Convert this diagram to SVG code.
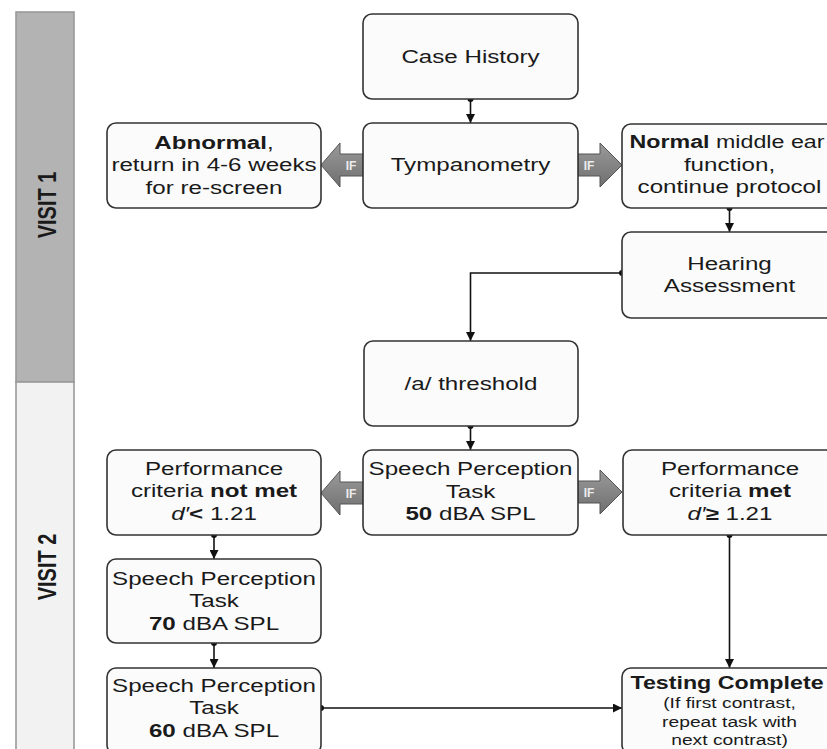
<svg xmlns="http://www.w3.org/2000/svg" width="827" height="749" viewBox="0 0 827 749">
<defs>
<style>
.box{fill:#fbfbfb;stroke:#333;stroke-width:1.6}
.t{font-family:"Liberation Sans",Arial,sans-serif;font-size:18.3px;fill:#1a1a1a;text-anchor:middle}
.s{font-size:14.6px}
.b{font-weight:bold}
.i{font-style:italic}
.conn{stroke:#111;stroke-width:1.6;fill:none;marker-start:url(#dot);marker-end:url(#arr)}
.ifa{fill:url(#g);stroke:#555;stroke-width:1}
.ift{font-family:"Liberation Sans",Arial,sans-serif;font-size:12px;font-weight:bold;fill:#ececec;text-anchor:middle}
.vis{font-family:"Liberation Sans",Arial,sans-serif;font-size:20px;font-weight:bold;fill:#1a1a1a;text-anchor:middle}
</style>
<linearGradient id="g" x1="0" y1="0" x2="0" y2="1">
<stop offset="0" stop-color="#9a9a9a"/>
<stop offset="1" stop-color="#6f6f6f"/>
</linearGradient>
<marker id="arr" markerUnits="userSpaceOnUse" markerWidth="10" markerHeight="9" refX="9" refY="4.5" orient="auto">
<path d="M0,0 L9,4.5 L0,9 z" fill="#111"/>
</marker>
<marker id="dot" markerUnits="userSpaceOnUse" markerWidth="8" markerHeight="8" refX="4" refY="4">
<circle cx="4" cy="4" r="3" fill="#111"/>
</marker>
</defs>

<g id="visit1">
<rect x="16" y="12" width="58" height="370" fill="#b3b3b3" stroke="#999" stroke-width="1.6"/>
<text class="vis" transform="translate(47 205) scale(1.32 1) rotate(-90)" x="0" y="7">VISIT 1</text>
</g>
<g id="visit2">
<rect x="16" y="382" width="58" height="380" fill="#f2f2f2" stroke="#999" stroke-width="1.6"/>
<text class="vis" transform="translate(47 567) scale(1.32 1) rotate(-90)" x="0" y="7">VISIT 2</text>
</g>

<g id="connectors">
<path class="conn" d="M470.5 99 V123"/>
<path class="conn" d="M729.5 208 V232"/>
<path class="conn" d="M622 273 H470.5 V341"/>
<path class="conn" d="M470.5 426 V450"/>
<path class="conn" d="M214 535 V559"/>
<path class="conn" d="M214 643 V668"/>
<path class="conn" d="M729.5 535 V668"/>
<path class="conn" d="M321 708 H622"/>
</g>

<g id="if-arrows">
<polygon class="ifa" points="363,154 340,154 340,143 321,165 340,187 340,176 363,176"/>
<text class="ift" x="351" y="169.5">IF</text>
<polygon class="ifa" points="578,154 600,154 600,143 622,165 600,187 600,176 578,176"/>
<text class="ift" x="589" y="169.5">IF</text>
<polygon class="ifa" points="363,482 340,482 340,471 321,493 340,515 340,504 363,504"/>
<text class="ift" x="351" y="497.5">IF</text>
<polygon class="ifa" points="578,481 600,481 600,470 622,492 600,514 600,503 578,503"/>
<text class="ift" x="589" y="496.5">IF</text>
</g>

<g id="case-history">
<rect class="box" x="363" y="14" width="215" height="85" rx="9"/>
<text class="t" transform="translate(470.5 0) scale(1.32 1)" x="0" y="63.5">Case History</text>
</g>

<g id="tympanometry">
<rect class="box" x="363" y="123" width="215" height="85" rx="9"/>
<text class="t" transform="translate(470.5 0) scale(1.32 1)" x="0" y="171.5">Tympanometry</text>
</g>

<g id="abnormal">
<rect class="box" x="107" y="123" width="214" height="85" rx="9"/>
<g transform="translate(214 0) scale(1.32 1)">
<text class="t" x="0" y="149"><tspan class="b">Abnormal</tspan>,</text>
<text class="t" x="0" y="171.5">return in 4-6 weeks</text>
<text class="t" x="0" y="194">for re-screen</text>
</g>
</g>

<g id="normal">
<rect class="box" x="622" y="124" width="215" height="84" rx="9"/>
<text class="t" transform="translate(727 0) scale(1.27 1)" x="0" y="148.5"><tspan class="b">Normal</tspan> middle ear</text>
<g transform="translate(729.5 0) scale(1.32 1)">
<text class="t" x="0" y="171.5">function,</text>
<text class="t" x="0" y="193.5">continue protocol</text>
</g>
</g>

<g id="hearing-assessment">
<rect class="box" x="622" y="232" width="215" height="86" rx="9"/>
<g transform="translate(729.5 0) scale(1.32 1)">
<text class="t" x="0" y="270">Hearing</text>
<text class="t" x="0" y="292">Assessment</text>
</g>
</g>

<g id="a-threshold">
<rect class="box" x="364" y="341" width="214" height="85" rx="9"/>
<text class="t" transform="translate(471 0) scale(1.32 1)" x="0" y="390">/a/ threshold</text>
</g>

<g id="speech-50">
<rect class="box" x="363" y="450" width="215" height="85" rx="9"/>
<g transform="translate(470.5 0) scale(1.32 1)">
<text class="t" x="0" y="475.5">Speech Perception</text>
<text class="t" x="0" y="498">Task</text>
<text class="t" x="0" y="520.5"><tspan class="b">50</tspan> dBA SPL</text>
</g>
</g>

<g id="not-met">
<rect class="box" x="107" y="450" width="214" height="85" rx="9"/>
<g transform="translate(214 0) scale(1.32 1)">
<text class="t" x="0" y="475">Performance</text>
<text class="t" x="0" y="497.5">criteria <tspan class="b">not met</tspan></text>
<text class="t" x="0" y="520"><tspan class="i">d′</tspan><tspan class="b">&lt;</tspan> 1.21</text>
</g>
</g>

<g id="met">
<rect class="box" x="623" y="450" width="214" height="85" rx="9"/>
<g transform="translate(730 0) scale(1.32 1)">
<text class="t" x="0" y="475">Performance</text>
<text class="t" x="0" y="497.5">criteria <tspan class="b">met</tspan></text>
<text class="t" x="0" y="520"><tspan class="i">d′</tspan><tspan class="b">≥</tspan> 1.21</text>
</g>
</g>

<g id="speech-70">
<rect class="box" x="107" y="559" width="214" height="84" rx="9"/>
<g transform="translate(214 0) scale(1.32 1)">
<text class="t" x="0" y="585">Speech Perception</text>
<text class="t" x="0" y="607.5">Task</text>
<text class="t" x="0" y="630"><tspan class="b">70</tspan> dBA SPL</text>
</g>
</g>

<g id="speech-60">
<rect class="box" x="107" y="668" width="214" height="86" rx="9"/>
<g transform="translate(214 0) scale(1.32 1)">
<text class="t" x="0" y="691.5">Speech Perception</text>
<text class="t" x="0" y="714.5">Task</text>
<text class="t" x="0" y="737.5"><tspan class="b">60</tspan> dBA SPL</text>
</g>
</g>

<g id="testing-complete">
<rect class="box" x="622" y="668" width="215" height="86" rx="9"/>
<text class="t b" transform="translate(727 0) scale(1.27 1)" x="0" y="689.5">Testing Complete</text>
<g transform="translate(729.5 0) scale(1.32 1)">
<text class="t s" x="0" y="708.5">(If first contrast,</text>
<text class="t s" x="0" y="727.5">repeat task with</text>
<text class="t s" x="0" y="745.5">next contrast)</text>
</g>
</g>
</svg>
